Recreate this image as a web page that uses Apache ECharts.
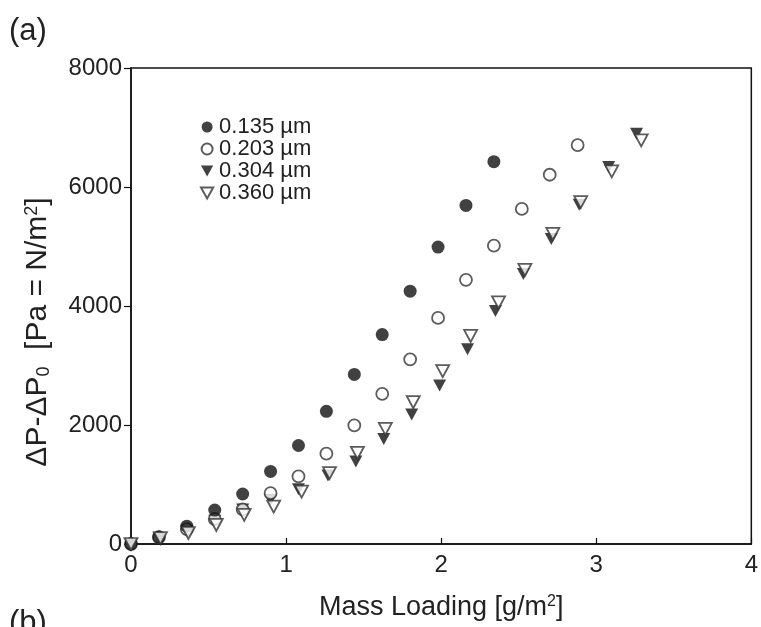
<!DOCTYPE html>
<html>
<head>
<meta charset="utf-8">
<script src="https://cdn.jsdelivr.net/npm/echarts@6/dist/echarts.min.js"></script>
<style>html,body{margin:0;padding:0;background:#fff}#c{width:761px;height:627px}</style>
</head>
<body>
<div id="c"></div>
<script>
// ---- data ----
var seriesNames = ['0.135 \u00b5m', '0.203 \u00b5m', '0.304 \u00b5m', '0.360 \u00b5m'];
var xTicks = [0, 1, 2, 3, 4];
var yTicks = [0, 2000, 4000, 6000, 8000];

var x135 = [0, 0.18, 0.36, 0.54, 0.72, 0.90, 1.08, 1.26, 1.44, 1.62, 1.80, 1.98, 2.16, 2.34];
var y135 = [0, 120, 300, 570, 840, 1220, 1655, 2230, 2850, 3520, 4250, 4990, 5690, 6425];

var x203 = [0, 0.18, 0.36, 0.54, 0.72, 0.90, 1.08, 1.26, 1.44, 1.62, 1.80, 1.98, 2.16, 2.34, 2.52, 2.70, 2.88];
var y203 = [0, 110, 250, 420, 580, 855, 1135, 1518, 1995, 2524, 3103, 3800, 4440, 5014, 5632, 6206, 6705];

var x304 = [0, 0.18, 0.36, 0.54, 0.72, 0.90, 1.08, 1.27, 1.45, 1.63, 1.81, 1.99, 2.17, 2.35, 2.53, 2.71, 2.89, 3.08, 3.26];
var y304 = [0, 90, 220, 390, 580, 742, 920, 1150, 1388, 1765, 2175, 2664, 3272, 3917, 4536, 5126, 5700, 6335, 6897];

var x360 = [0, 0.19, 0.37, 0.55, 0.73, 0.92, 1.10, 1.28, 1.46, 1.64, 1.82, 2.01, 2.19, 2.37, 2.54, 2.72, 2.90, 3.10, 3.29];
var y360 = [0, 100, 185, 320, 489, 629, 882, 1192, 1530, 1934, 2383, 2906, 3496, 4059, 4609, 5211, 5745, 6262, 6784];

function pairs(xs, ys) { return xs.map(function (x, i) { return [x, ys[i]]; }); }

var FONT = '"Liberation Sans", Arial, sans-serif';
var DOWN = 'path://M0,0L10,0L5,9Z';
var chart = echarts.init(document.getElementById('c'), null, {renderer: 'canvas'});

var option = {
  animation: false,
  backgroundColor: '#fff',
  grid: {left: 131, right: 7, top: 68, bottom: 83, show: true, borderColor: '#111', borderWidth: 1.5, backgroundColor: 'transparent'},
  xAxis: {
    type: 'value', min: 0, max: 4, interval: 1,
    name: 'Mass Loading [g/m{sup|2}]', nameLocation: 'middle', nameGap: 50,
    nameTextStyle: {fontFamily: FONT, fontSize: 27, color: '#222',
      rich: {sup: {fontSize: 16, verticalAlign: 'top', padding: [0, 0, 12, 0], fontFamily: FONT, color: '#222'}}},
    axisLine: {show: true, lineStyle: {color: '#111', width: 1.5}},
    axisTick: {show: true, inside: true, length: 6, lineStyle: {color: '#111', width: 1.2}},
    axisLabel: {fontFamily: FONT, fontSize: 24, color: '#222', margin: 9,
      formatter: function (v) { return xTicks.indexOf(v) >= 0 ? String(v) : ''; }},
    splitLine: {show: false}
  },
  yAxis: {
    type: 'value', min: 0, max: 8000, interval: 2000,
    axisLine: {show: true, lineStyle: {color: '#111', width: 1.5}},
    axisTick: {show: true, inside: false, length: 7, lineStyle: {color: '#111', width: 1.2}},
    axisLabel: {fontFamily: FONT, fontSize: 24, color: '#222', margin: 9,
      formatter: function (v) { return yTicks.indexOf(v) >= 0 ? String(v) : ''; }},
    splitLine: {show: false}
  },
  legend: {
    orient: 'vertical', left: 195, top: 111, itemGap: 0, itemWidth: 14, itemHeight: 11,
    textStyle: {fontFamily: FONT, fontSize: 22, color: '#222', lineHeight: 20.5},
    data: seriesNames
  },
  series: [
    {name: seriesNames[0], type: 'scatter', data: pairs(x135, y135), symbol: 'circle', symbolSize: 13,
     itemStyle: {color: '#111', borderColor: '#111', borderWidth: 0}, z: 4},
    {name: seriesNames[1], type: 'scatter', data: pairs(x203, y203), symbol: 'circle', symbolSize: 12,
     itemStyle: {color: '#fff', borderColor: '#333', borderWidth: 1.8}, z: 3},
    {name: seriesNames[2], type: 'scatter', data: pairs(x304, y304), symbol: DOWN, symbolSize: [13, 12],
     itemStyle: {color: '#111', borderColor: '#111', borderWidth: 0}, z: 2},
    {name: seriesNames[3], type: 'scatter', data: pairs(x360, y360), symbol: DOWN, symbolSize: [13, 12],
     itemStyle: {color: '#fff', borderColor: '#333', borderWidth: 1.8}, z: 5}
  ],
  graphic: [
    {type: 'text', left: 9, top: 16, style: {text: '(a)', fontFamily: FONT, fontSize: 31, fill: '#222'}},
    {type: 'text', left: 9, top: 608, style: {text: '(b)', fontFamily: FONT, fontSize: 31, fill: '#222'}},
    {type: 'text', x: 38, y: 332, rotation: Math.PI / 2,
     style: {text: '\u0394P-\u0394P{sub|0}  [Pa = N/m{sup|2}]', fontFamily: FONT, fontSize: 30, fill: '#222',
       align: 'center', verticalAlign: 'middle',
       rich: {sub: {fontSize: 18, verticalAlign: 'bottom', padding: [12, 0, 0, 0], fontFamily: FONT, fill: '#222'},
              sup: {fontSize: 18, verticalAlign: 'top', padding: [0, 0, 12, 0], fontFamily: FONT, fill: '#222'}}}}
  ]
};
chart.setOption(option);
</script>
</body>
</html>
